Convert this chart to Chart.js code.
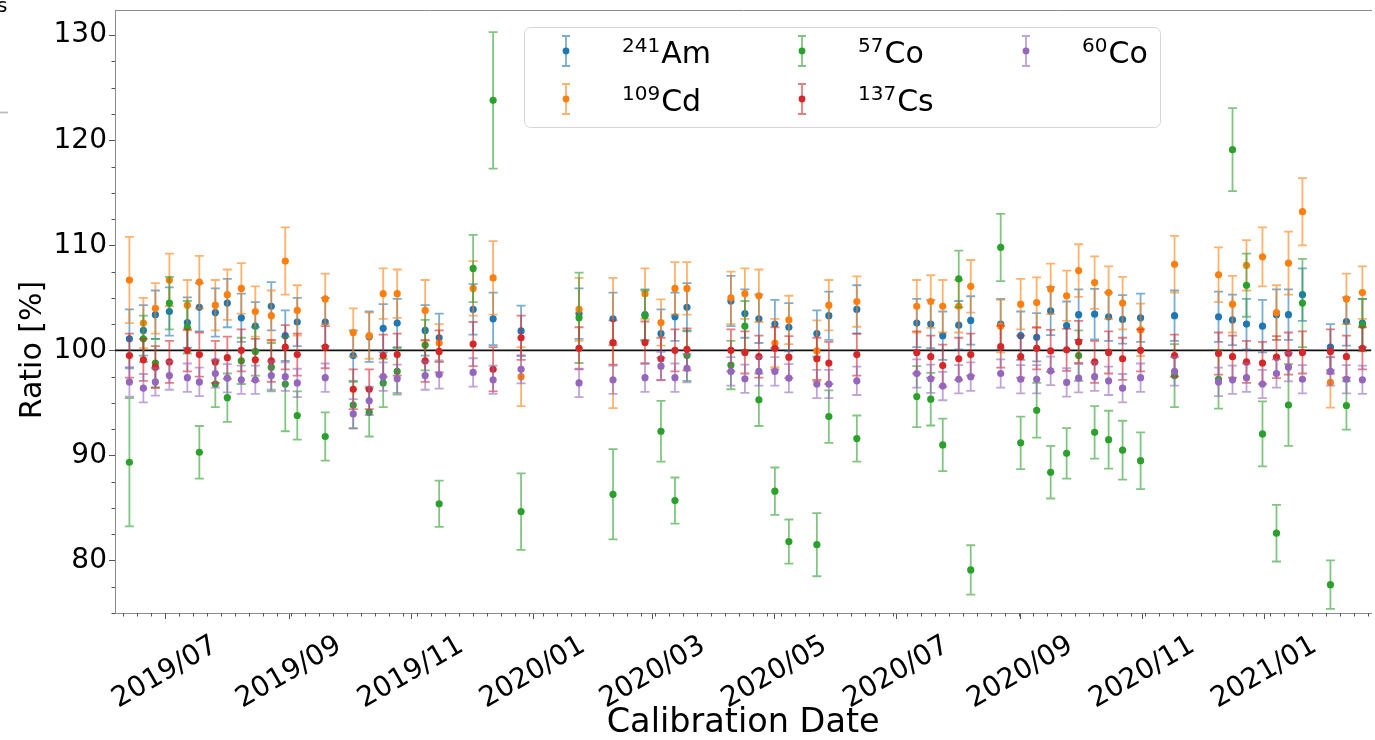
<!DOCTYPE html>
<html>
<head>
<meta charset="utf-8">
<script src="https://cdn.jsdelivr.net/npm/chart.js@4/dist/chart.umd.min.js"></script>
<style>
html,body{margin:0;padding:0;background:#fff;}
#wrap{width:1375px;height:740px;position:relative;overflow:hidden;}
</style>
</head>
<body>
<div id="wrap"><canvas id="c" width="1375" height="740"></canvas></div>
<script>
// ---------------- data ----------------
const dates = ['2019-06-13','2019-06-20','2019-06-26','2019-07-03','2019-07-12','2019-07-18','2019-07-26','2019-08-01','2019-08-08','2019-08-15','2019-08-23','2019-08-30','2019-09-05','2019-09-19','2019-10-03','2019-10-11','2019-10-18','2019-10-25','2019-11-08','2019-11-15','2019-12-02','2019-12-12','2019-12-26','2020-01-24','2020-02-10','2020-02-26','2020-03-05','2020-03-12','2020-03-18','2020-04-09','2020-04-16','2020-04-23','2020-05-01','2020-05-08','2020-05-22','2020-05-28','2020-06-11','2020-07-11','2020-07-18','2020-07-24','2020-08-01','2020-08-07','2020-08-22','2020-09-01','2020-09-09','2020-09-16','2020-09-24','2020-09-30','2020-10-08','2020-10-15','2020-10-22','2020-10-31','2020-11-17','2020-12-09','2020-12-16','2020-12-23','2020-12-31','2021-01-07','2021-01-13','2021-01-20','2021-02-03','2021-02-11','2021-02-19'];

const am241 = [101.1,101.9,103.4,103.7,102.65,104.1,103.6,104.5,103.1,102.3,104.2,101.4,102.7,102.7,99.5,101.3,102.1,102.6,101.9,101.2,103.9,103.0,101.85,103.5,103.0,103.4,101.6,103.2,104.1,104.7,103.5,103.0,102.5,102.2,101.6,103.3,103.9,102.6,102.5,101.4,102.4,102.85,102.5,101.4,101.25,103.75,102.35,103.4,103.45,103.2,102.95,103.1,103.3,103.2,102.9,102.5,102.3,103.4,103.4,105.3,100.3,102.75,102.6];
const am241Err = [2.8,2.4,2.3,2.3,2.4,2.3,2.3,2.3,2.3,2.3,2.3,2.4,2.3,2.3,2.4,2.4,2.3,2.3,2.4,2.3,2.4,2.5,2.4,2.4,2.5,2.4,2.3,2.3,2.3,2.4,2.3,2.3,2.3,2.3,2.2,2.3,2.3,2.3,2.3,2.3,2.3,2.3,2.4,2.3,2.3,2.3,2.3,2.4,2.4,2.3,2.3,2.3,2.4,2.4,2.4,2.4,2.5,2.4,2.4,2.5,2.2,2.3,2.3];

const cd109 = [106.7,102.6,104.0,106.7,104.3,106.5,104.3,105.3,105.9,103.7,103.3,108.5,103.8,104.9,101.7,101.4,105.4,105.4,103.8,100.7,105.9,106.9,97.5,103.9,100.7,105.4,102.65,105.9,105.9,105.0,105.4,105.2,100.7,102.9,99.95,104.3,104.65,104.2,104.65,104.2,104.2,106.1,102.3,104.4,104.55,105.85,105.2,107.6,106.45,105.5,104.5,101.95,108.2,107.2,104.4,108.1,108.9,103.6,108.3,113.2,96.95,104.9,105.5];
const cd109Err = [4.1,2.4,2.4,2.5,2.4,2.5,2.4,2.4,2.4,2.4,2.4,3.2,2.4,2.4,2.3,2.2,2.4,2.3,2.9,1.8,2.6,3.5,2.8,3.0,6.2,2.4,2.2,2.5,2.5,2.5,2.4,2.5,2.3,2.3,2.9,2.4,2.4,2.5,2.5,2.5,2.5,2.5,2.5,2.4,2.4,2.4,2.4,2.5,2.5,2.5,2.5,2.5,2.7,2.6,2.7,2.4,2.8,2.6,3.0,3.2,2.4,2.4,2.5];

const co57 = [89.35,101.1,98.8,104.5,102.2,90.3,96.8,95.5,99.0,99.9,98.4,96.8,93.8,91.8,94.8,94.1,96.9,98.0,100.5,85.4,107.8,123.8,84.65,103.1,86.3,103.3,92.3,85.7,99.5,98.6,102.3,95.3,86.6,81.8,81.5,93.7,91.6,95.6,95.35,91.0,106.8,79.1,109.8,91.2,94.3,88.4,90.2,99.5,92.2,91.5,90.5,89.5,97.6,97.25,119.1,106.2,92.05,82.6,94.8,104.5,77.7,94.75,102.4];
const co57Err = [6.1,2.2,2.3,2.5,2.5,2.5,2.2,2.3,2.2,2.3,2.3,4.5,2.3,2.3,2.2,2.3,2.3,2.2,2.4,2.2,3.2,6.5,3.65,4.3,4.3,2.4,2.9,2.2,2.4,2.3,2.4,2.5,2.25,2.1,3.0,2.5,2.2,2.9,2.5,2.5,2.7,2.35,3.2,2.5,2.6,2.5,2.4,2.4,2.5,2.75,2.8,2.7,3.0,2.8,3.95,3.0,3.1,2.7,3.9,4.2,2.3,2.3,2.5];

const cs137 = [99.5,99.1,98.4,98.9,100.0,99.6,98.9,99.3,100.0,99.1,99.0,100.3,99.6,100.3,96.3,96.3,99.5,99.6,99.0,99.9,100.6,98.2,101.2,100.2,100.75,100.75,99.2,100.0,100.1,100.0,99.8,99.4,100.2,99.35,99.2,98.8,99.6,99.8,99.4,98.55,99.2,99.6,100.35,99.4,100.2,99.95,100.05,100.8,98.9,99.8,99.2,100.0,99.5,99.7,99.4,98.9,98.8,99.35,99.7,99.8,99.9,99.4,100.2];
const cs137Err = [2.1,2.0,2.0,2.0,2.0,2.1,2.0,2.0,2.0,2.0,2.0,2.1,2.0,2.0,1.9,1.9,2.0,2.0,2.0,2.0,2.1,2.1,2.1,2.0,2.1,2.0,2.0,2.0,2.0,2.0,2.0,2.0,2.0,2.0,2.0,2.0,2.0,2.0,2.0,2.0,2.0,2.0,2.0,2.0,2.0,2.0,2.0,2.0,2.0,2.0,2.0,2.0,2.0,2.0,2.0,2.0,2.0,2.0,2.0,2.0,2.1,2.0,2.0];

const co60 = [97.0,96.4,97.0,97.6,97.4,97.0,97.8,97.35,97.2,97.2,97.6,97.5,96.9,97.4,93.95,95.2,97.5,97.3,97.6,97.7,97.9,97.2,98.2,96.9,97.2,97.4,98.5,97.4,98.3,98.0,97.3,98.0,98.0,97.35,96.8,96.8,97.1,97.8,97.3,96.6,97.25,97.5,97.8,97.25,97.25,98.05,96.95,97.35,97.5,97.1,96.4,97.4,98.0,97.0,97.2,97.4,96.8,97.8,98.4,97.25,98.0,97.25,97.2];
const co60Err = [1.4,1.35,1.3,1.35,1.35,1.35,1.35,1.35,1.35,1.35,1.35,1.35,1.35,1.35,1.4,1.35,1.35,1.35,1.35,1.35,1.35,1.35,1.35,1.35,1.35,1.35,1.35,1.35,1.35,1.35,1.35,1.35,1.35,1.35,1.35,1.35,1.35,1.35,1.35,1.35,1.35,1.35,1.35,1.35,1.35,1.35,1.35,1.35,1.35,1.35,1.35,1.35,1.35,1.35,1.35,1.35,1.35,1.35,1.35,1.35,1.35,1.35,1.35];

const seriesNames = ['241Am','109Cd','57Co','137Cs','60Co'];
const xTickDates = ['2019-07-01','2019-09-01','2019-11-01','2020-01-01','2020-03-01','2020-05-01','2020-07-01','2020-09-01','2020-11-01','2021-01-01'];
const yTicks = [80,90,100,110,120,130];
const xRange = ['2019-06-05T19:00:00Z','2021-02-23T12:00:00Z'];
const yRange = [75, 132.4];
const refLevel = 100;
const yTitle = 'Ratio [%]';
const xTitle = 'Calibration Date';

// ---------------- helpers ----------------
const DAY = 86400000;
const toDay = s => Date.parse(s.length <= 10 ? s + 'T00:00:00Z' : s) / DAY;
const fmtMonth = d => { const dt = new Date(d * DAY); return dt.getUTCFullYear() + '/' + String(dt.getUTCMonth() + 1).padStart(2, '0'); };
const FONT = "'DejaVu Sans', 'Liberation Sans', sans-serif";
const colors = ['#1f77b4','#ff7f0e','#2ca02c','#d62728','#9467bd'];
const rgba = (hex, a) => { const n = parseInt(hex.slice(1), 16); return `rgba(${n>>16},${(n>>8)&255},${n&255},${a})`; };

const values = [am241, cd109, co57, cs137, co60];
const errs = [am241Err, cd109Err, co57Err, cs137Err, co60Err];
const xMin = toDay(xRange[0]), xMax = toDay(xRange[1]);

const datasets = seriesNames.map((name, k) => ({
  label: name,
  data: dates.map((d, i) => ({ x: toDay(d), y: values[k][i] })),
  errors: errs[k],
  backgroundColor: colors[k],
  borderColor: colors[k],
  borderWidth: 0,
  pointRadius: 3.6,
  pointHoverRadius: 3.6,
  order: 5 - k,
  xAxisID: 'x', yAxisID: 'y'
}));
datasets.push({
  type: 'line', label: 'ref',
  data: [{ x: xMin, y: refLevel }, { x: xMax, y: refLevel }],
  borderColor: '#111', borderWidth: 1.7, pointRadius: 0, order: 20,
  xAxisID: 'x', yAxisID: 'y'
});

// ---------------- plugins ----------------
const errorBars = {
  id: 'errorBars',
  beforeDatasetDraw(chart, args) {
    const ds = chart.data.datasets[args.index];
    if (!ds.errors) return;
    const ctx = chart.ctx, ys = chart.scales.y, ca = chart.chartArea;
    ctx.save();
    ctx.beginPath(); ctx.rect(ca.left, ca.top, ca.right - ca.left, ca.bottom - ca.top); ctx.clip();
    ctx.strokeStyle = rgba(ds.borderColor, 0.6);
    ctx.lineWidth = 1.8;
    args.meta.data.forEach((pt, i) => {
      const v = ds.data[i].y, e = ds.errors[i];
      const x = pt.x;
      const y1 = ys.getPixelForValue(v + e), y2 = ys.getPixelForValue(v - e);
      ctx.beginPath();
      ctx.moveTo(x, y1); ctx.lineTo(x, y2);
      ctx.moveTo(x - 4.5, y1); ctx.lineTo(x + 4.5, y1);
      ctx.moveTo(x - 4.5, y2); ctx.lineTo(x + 4.5, y2);
      ctx.stroke();
    });
    ctx.restore();
  }
};

const minorTicks = {
  id: 'minorTicks',
  afterDraw(chart) {
    const ctx = chart.ctx, xs = chart.scales.x, ys = chart.scales.y, ca = chart.chartArea;
    ctx.save();
    ctx.strokeStyle = '#555'; ctx.lineWidth = 1;
    ctx.beginPath();
    const step = (yTicks[1] - yTicks[0]) / 4;
    for (let v = yTicks[0] - 2 * step; v <= yRange[1]; v += step) {
      if (v < yRange[0] || yTicks.includes(v)) continue;
      const y = Math.round(ys.getPixelForValue(v)) + 0.5;
      ctx.moveTo(ca.left - 3.5, y); ctx.lineTo(ca.left, y);
    }
    for (let d = Math.ceil(xMin); d <= xMax; d++) {
      const dt = new Date(d * DAY);
      if (dt.getUTCDay() !== 1) continue;
      const x = Math.round(xs.getPixelForValue(d)) + 0.5;
      ctx.moveTo(x, ca.bottom); ctx.lineTo(x, ca.bottom + 3.5);
    }
    ctx.stroke();
    // y-axis title
    ctx.save();
    ctx.translate(33, 350);
    ctx.rotate(-Math.PI / 2);
    ctx.font = `30px ${FONT}`; ctx.fillStyle = '#000';
    ctx.textAlign = 'center'; ctx.textBaseline = 'middle';
    ctx.fillText(yTitle, 0, 0);
    ctx.restore();
    ctx.restore();
  }
};

const isoLegend = {
  id: 'isoLegend',
  afterDraw(chart) {
    const ctx = chart.ctx;
    ctx.save();
    const bx = 524.5, by = 27.5, bw = 636, bh = 100, r = 6;
    ctx.beginPath();
    ctx.moveTo(bx + r, by); ctx.arcTo(bx + bw, by, bx + bw, by + bh, r);
    ctx.arcTo(bx + bw, by + bh, bx, by + bh, r); ctx.arcTo(bx, by + bh, bx, by, r);
    ctx.arcTo(bx, by, bx + bw, by, r); ctx.closePath();
    ctx.fillStyle = 'rgba(255,255,255,0.85)'; ctx.fill();
    ctx.strokeStyle = '#d6d6d6'; ctx.lineWidth = 1; ctx.stroke();
    const pos = [[566, 51], [566, 99], [802, 51], [802, 99], [1026, 51]];
    seriesNames.forEach((name, k) => {
      const [mx, my] = pos[k];
      ctx.strokeStyle = rgba(colors[k], 0.6); ctx.lineWidth = 1.8;
      ctx.beginPath();
      ctx.moveTo(mx, my - 15); ctx.lineTo(mx, my + 15);
      ctx.moveTo(mx - 4, my - 15); ctx.lineTo(mx + 4, my - 15);
      ctx.moveTo(mx - 4, my + 15); ctx.lineTo(mx + 4, my + 15);
      ctx.stroke();
      ctx.fillStyle = colors[k];
      ctx.beginPath(); ctx.arc(mx, my, 3.4, 0, Math.PI * 2); ctx.fill();
      const m = name.match(/^(\d+)(.*)$/);
      ctx.fillStyle = '#000'; ctx.textBaseline = 'alphabetic'; ctx.textAlign = 'left';
      ctx.font = `20px ${FONT}`;
      ctx.fillText(m[1], mx + 56, my + 1);
      const sw = ctx.measureText(m[1]).width;
      ctx.font = `30px ${FONT}`;
      ctx.fillText(m[2], mx + 56 + sw + 1, my + 12);
    });
    // fragment of neighbouring panel at the top-left corner
    ctx.font = `20px ${FONT}`; ctx.fillStyle = '#000'; ctx.textBaseline = 'top';
    ctx.fillText('s', -3, -3);
    ctx.strokeStyle = '#bbb'; ctx.beginPath(); ctx.moveTo(0, 112.5); ctx.lineTo(8, 112.5); ctx.stroke();
    ctx.restore();
  }
};

// ---------------- chart ----------------
Chart.defaults.font.family = FONT;
new Chart(document.getElementById('c'), {
  type: 'scatter',
  data: { datasets },
  options: {
    responsive: false, animation: false, devicePixelRatio: 1,
    layout: { padding: { left: 0, right: 0, top: 10, bottom: 0 } },
    plugins: { legend: { display: false }, tooltip: { enabled: false } },
    scales: {
      x: {
        type: 'linear', position: 'bottom', min: xMin, max: xMax,
        afterBuildTicks: s => { s.ticks = xTickDates.map(d => ({ value: toDay(d) })); },
        afterFit: s => { s.height = 127; },
        ticks: {
          autoSkip: false, minRotation: 30, maxRotation: 30, labelOffset: 50, padding: 10,
          color: '#000', font: { size: 28, family: FONT },
          callback: v => fmtMonth(v)
        },
        grid: { drawOnChartArea: false, drawTicks: true, tickLength: 6, tickColor: '#555', tickWidth: 1 },
        border: { display: true, color: '#8a8a8a', width: 1 },
        title: { display: true, text: xTitle, color: '#000', font: { size: 33.5, family: FONT, lineHeight: 0.85 }, padding: { top: 0, bottom: 2 } }
      },
      xTop: {
        type: 'linear', position: 'top', min: xMin, max: xMax,
        afterFit: s => { s.height = 0; },
        ticks: { display: false },
        grid: { drawOnChartArea: false, drawTicks: false },
        border: { display: true, color: '#8a8a8a', width: 1 }
      },
      y: {
        type: 'linear', position: 'left', min: yRange[0], max: yRange[1],
        afterBuildTicks: s => { s.ticks = yTicks.map(v => ({ value: v })); },
        afterFit: s => { s.width = 115; },
        ticks: { color: '#000', font: { size: 28, family: FONT, lineHeight: 0.4 }, padding: 2, callback: v => String(v) },
        grid: { drawOnChartArea: false, drawTicks: true, tickLength: 6, tickColor: '#555', tickWidth: 1 },
        border: { display: true, color: '#8a8a8a', width: 1 },
        title: { display: false }
      }
    }
  },
  plugins: [errorBars, minorTicks, isoLegend]
});
</script>
</body>
</html>
